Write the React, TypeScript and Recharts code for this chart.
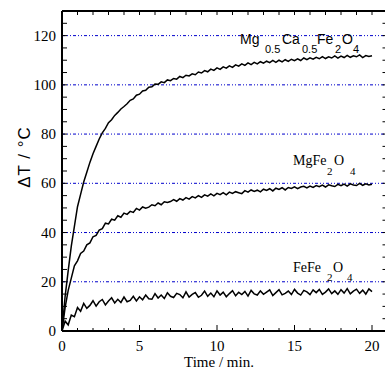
import { LineChart, Line, XAxis, YAxis, ReferenceLine } from "recharts"

// time axis, minutes
const time = [
  0, 0.2, 0.4, 0.6, 0.8, 1, 1.2, 1.4, 1.6, 1.8,
  2, 2.2, 2.4, 2.6, 2.8, 3, 3.2, 3.4, 3.6, 3.8,
  4, 4.2, 4.4, 4.6, 4.8, 5, 5.2, 5.4, 5.6, 5.8,
  6, 6.2, 6.4, 6.6, 6.8, 7, 7.2, 7.4, 7.6, 7.8,
  8, 8.2, 8.4, 8.6, 8.8, 9, 9.2, 9.4, 9.6, 9.8,
  10, 10.2, 10.4, 10.6, 10.8, 11, 11.2, 11.4, 11.6, 11.8,
  12, 12.2, 12.4, 12.6, 12.8, 13, 13.2, 13.4, 13.6, 13.8,
  14, 14.2, 14.4, 14.6, 14.8, 15, 15.2, 15.4, 15.6, 15.8,
  16, 16.2, 16.4, 16.6, 16.8, 17, 17.2, 17.4, 17.6, 17.8,
  18, 18.2, 18.4, 18.6, 18.8, 19, 19.2, 19.4, 19.6, 19.8,
  20,
]

// Mg0.5Ca0.5Fe2O4
const mgCa = [
  0, 14, 24.5, 34.5, 42.5, 50.5, 55.5, 60.5, 64.5, 68.5,
  72, 75, 78, 80.5, 82.3, 84.6, 85.8, 87.6, 88.8, 90.2,
  91.2, 92.3, 93.7, 94.3, 95.8, 96.2, 97.5, 97.8, 99, 99.2,
  100.3, 100.2, 101.2, 100.9, 102, 101.7, 102.6, 102.3, 103.4, 102.9,
  103.9, 103.6, 104.5, 104.1, 105.2, 104.8, 105.8, 105.3, 106.4, 105.9,
  106.9, 106.3, 107.3, 106.8, 107.7, 107.1, 108.1, 107.6, 108.5, 107.9,
  108.9, 108.2, 109.1, 108.5, 109.4, 108.8, 109.6, 109, 109.9, 109.1,
  110, 109.3, 110.2, 109.5, 110.4, 109.8, 110.6, 109.9, 110.9, 110.2,
  111, 110.4, 111.2, 110.6, 111.5, 110.7, 111.4, 110.9, 111.8, 110.9,
  111.7, 111.1, 112, 111.2, 111.8, 111.4, 112.2, 111.1, 111.9, 111.5,
  111.8,
]

// MgFe2O4
const mgFe = [
  0, 9.5, 16.5, 21.5, 26.5, 28.5, 31.5, 32.5, 35, 35.8,
  38.3, 38.8, 41, 41.6, 43.8, 43.5, 45.4, 45, 46.8, 46.2,
  47.9, 47.4, 48.6, 48.2, 49.8, 49.1, 50.4, 49.9, 50.3, 51.3,
  50.9, 52, 51.3, 52.5, 52.2, 52.6, 53.4, 52.7, 53.8, 53.2,
  54.2, 53.6, 54.6, 54.1, 55, 54.3, 55.3, 54.8, 55.7, 54.9,
  55.9, 55.4, 56.2, 55.3, 56.4, 55.9, 56.6, 56.2, 55.8, 57,
  56.4, 57.3, 56.7, 57.2, 56.5, 57.6, 57.1, 57.8, 56.9, 58,
  57.5, 58.2, 57.3, 58.3, 57.9, 58.6, 57.8, 58.5, 58.8, 58.1,
  58.9, 58.3, 59.1, 58.6, 59.3, 58.5, 59.4, 59, 58.7, 59.6,
  59, 59.7, 58.9, 59.8, 59.3, 59.1, 60, 59.2, 59.8, 59.3,
  59.6,
]

// FeFe2O4
const feFe = [
  0, 4, 2.5, 6.5, 5.8, 9.5, 8, 11.2, 9.2, 10.4,
  12.3, 10.1, 11.9, 12.8, 10.6, 12.2, 13.5, 11.4, 12.9, 11.6,
  13.8, 11.9, 12.4, 14.1, 12.2, 13.9, 12.7, 14.6, 13.1, 12.9,
  15.2, 13.4, 14.6, 13.2, 15.5, 14.1, 13.6, 15.3, 14.8, 13.5,
  15.9, 13.8, 14.9, 15.6, 13.7, 14.5, 16.2, 14.1, 15.4, 13.9,
  16.3, 14.6, 15.8, 13.9, 15.2, 16.4, 14.3, 15.7, 14.8, 16.1,
  14.2, 16.5, 15.1, 14.6, 16.3, 14.9, 15.8, 16.7, 14.4, 15.6,
  16.8, 14.7, 15.3, 16.2, 14.8, 16.9, 15.4, 14.6, 16.5, 15.9,
  14.8, 16.7, 15.6, 16.9, 14.9, 15.8, 17.1, 15.2, 16.3, 14.9,
  16.8, 15.4, 17.2, 15.1, 16.2, 17, 15.3, 16.6, 15, 17.1,
  16,
]

const xTicks = [0, 1, 2, 3, 4, 5, 6, 7, 8, 9, 10, 11, 12, 13, 14, 15, 16, 17, 18, 19, 20, 21]
const yTicks = [0, 5, 10, 15, 20, 25, 30, 35, 40, 45, 50, 55, 60, 65, 70, 75, 80, 85, 90, 95, 100, 105, 110, 115, 120, 125, 130]
const gridLines = [20, 40, 60, 80, 100, 120]

const data = time.map((t, i) => ({ t, a: mgCa[i], b: mgFe[i], c: feFe[i] }))

const serif = "'Liberation Serif', 'Times New Roman', serif"
const sans = "'Liberation Sans', Arial, sans-serif"

function BottomTick(props: any) {
  const { x, y, payload } = props
  const major = payload.value % 5 === 0
  return (
    <g>
      <line x1={x} y1={y} x2={x} y2={y - (major ? 6 : 3)} stroke="#000" strokeWidth={1} />
      {major && payload.value <= 20 ? (
        <text x={x} y={y + 20} textAnchor="middle" fontSize={15} fontFamily={serif} fill="#000">
          {payload.value}
        </text>
      ) : null}
    </g>
  )
}

function TopTick(props: any) {
  const { x, y } = props
  return <line x1={x} y1={y} x2={x} y2={y + 4} stroke="#000" strokeWidth={1} />
}

function LeftTick(props: any) {
  const { x, y, payload } = props
  const major = payload.value % 20 === 0
  return (
    <g>
      <line x1={x} y1={y} x2={x + 5} y2={y} stroke="#000" strokeWidth={1} />
      {major ? (
        <text x={x - 6} y={y + 5} textAnchor="end" fontSize={15} fontFamily={serif} fill="#000">
          {payload.value}
        </text>
      ) : null}
    </g>
  )
}

function RightTick(props: any) {
  const { x, y } = props
  return <line x1={x} y1={y} x2={x - 5} y2={y} stroke="#000" strokeWidth={1} />
}

export default function App() {
  return (
    <div style={{ position: "absolute", left: 0, top: 0, width: 385, height: 371, overflow: "hidden", background: "#fff" }}>
      <LineChart width={395} height={371} data={data} margin={{ top: 10, right: 6.5, bottom: 0, left: 8 }}>
        <XAxis
          xAxisId="b"
          dataKey="t"
          type="number"
          domain={[0, 21]}
          ticks={xTicks}
          interval={0}
          tickSize={0}
          tickMargin={0}
          height={40}
          axisLine={{ stroke: "#000", strokeWidth: 2 }}
          tickLine={false}
          tick={BottomTick}
        />
        <XAxis
          xAxisId="t"
          orientation="top"
          dataKey="t"
          type="number"
          domain={[0, 21]}
          ticks={xTicks}
          interval={0}
          tickSize={0}
          tickMargin={0}
          height={1}
          axisLine={{ stroke: "#000", strokeWidth: 2 }}
          tickLine={false}
          tick={TopTick}
        />
        <YAxis
          yAxisId="l"
          type="number"
          domain={[0, 130]}
          ticks={yTicks}
          interval={0}
          tickSize={0}
          tickMargin={0}
          width={54}
          axisLine={{ stroke: "#000", strokeWidth: 2 }}
          tickLine={false}
          tick={LeftTick}
        />
        <YAxis
          yAxisId="r"
          orientation="right"
          type="number"
          domain={[0, 130]}
          ticks={yTicks}
          interval={0}
          tickSize={0}
          tickMargin={0}
          width={1}
          axisLine={false}
          tickLine={false}
          tick={RightTick}
        />
        {gridLines.map((v) => (
          <ReferenceLine
            key={v}
            xAxisId="b"
            yAxisId="l"
            y={v}
            stroke="#0000cc"
            strokeWidth={1}
            strokeDasharray="3 2 1 2 1 2"
          />
        ))}
        <Line xAxisId="t" yAxisId="r" dataKey="c" stroke="none" dot={false} activeDot={false} isAnimationActive={false} />
        <Line xAxisId="b" yAxisId="l" dataKey="a" stroke="#000" strokeWidth={1.5} dot={false} isAnimationActive={false} />
        <Line xAxisId="b" yAxisId="l" dataKey="b" stroke="#000" strokeWidth={1.5} dot={false} isAnimationActive={false} />
        <Line xAxisId="b" yAxisId="l" dataKey="c" stroke="#000" strokeWidth={1.5} dot={false} isAnimationActive={false} />
      </LineChart>
      <svg width={385} height={371} style={{ position: "absolute", left: 0, top: 0, pointerEvents: "none" }}>
        <text
          transform="translate(30,157) rotate(-90)"
          textAnchor="middle"
          fontSize={17}
          fontFamily={sans}
          letterSpacing={1}
          fill="#000"
        >
          ΔT / °C
        </text>
        <text x={219} y={367} textAnchor="middle" fontSize={15} fontFamily={serif} fill="#000">
          Time / min.
        </text>
        <g fontFamily={sans} fill="#000">
          <text x={240} y={44} fontSize={14}>Mg</text>
          <text x={265} y={53} fontSize={11}>0.5</text>
          <text x={282} y={44} fontSize={14}>Ca</text>
          <text x={302} y={53} fontSize={11}>0.5</text>
          <text x={317} y={44} fontSize={14}>Fe</text>
          <text x={335} y={53} fontSize={11}>2</text>
          <text x={342} y={44} fontSize={14}>O</text>
          <text x={353} y={53} fontSize={11}>4</text>
        </g>
        <g fontFamily={serif} fill="#000">
          <text x={293} y={165} fontSize={14}>MgFe</text>
          <text x={327} y={175} fontSize={11}>2</text>
          <text x={334} y={165} fontSize={14}>O</text>
          <text x={350} y={175} fontSize={11}>4</text>
        </g>
        <g fontFamily={serif} fill="#000">
          <text x={293} y={272} fontSize={14}>FeFe</text>
          <text x={327} y={281} fontSize={11}>2</text>
          <text x={333} y={272} fontSize={14}>O</text>
          <text x={347} y={281} fontSize={11}>4</text>
        </g>
      </svg>
    </div>
  )
}
